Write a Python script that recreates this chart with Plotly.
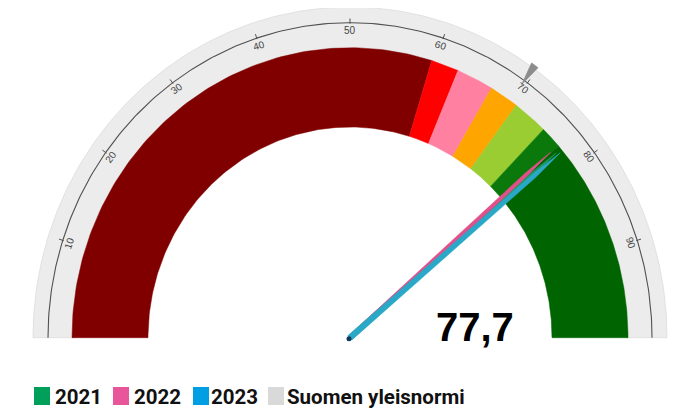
import numpy as np
import plotly.graph_objects as go

# ---------------- data ----------------
band_edges = [0, 59.5, 62.7, 67.0, 70.4, 74.5, 77.0, 100]
band_colors = ["#800000", "#ff0000", "#ff80a0", "#ffa500", "#9acd32", "#0a780a", "#006400"]
years = ["2021", "2022", "2023"]
values = [77.4, 76.9, 77.7]
needle_colors = ["#1f9a5e", "#e0508a", "#2aa8c8"]
legend_colors = ["#00a05a", "#e8559a", "#009fe3"]
norm_label = "Suomen yleisnormi"
norm_value = 69.6
norm_legend_color = "#d9d9d9"
tick_values = [10, 20, 30, 40, 50, 60, 70, 80, 90]
display_value = "77,7"

# ---------------- geometry / style ----------------
OFF = 8  # page body margin of the html page
W, H = 681 - OFF, 409 - OFF
R_IN, R_OUT = 202, 278
R_RING_IN, R_RING_OUT = 276, 317
R_SCALE = 302
R_LABEL = 296.5
needle_len = [272, 268, 275]
needle_halfw = [2.6, 2.3, 2.9]
CX_PX, CY_PX, KY = 350 - OFF, 337.7 - OFF, 1.043


def ang(v):
    return np.pi * (1 - v / 100.0)


def pol(r, v):
    a = ang(np.asarray(v, dtype=float))
    return r * np.cos(a), r * np.sin(a)


def ring(v0, v1, r0, r1, n=120):
    vs = np.linspace(v0, v1, n)
    xo, yo = pol(r1, vs)
    xi, yi = pol(r0, vs[::-1])
    return np.concatenate([xo, xi, xo[:1]]), np.concatenate([yo, yi, yo[:1]])


fig = go.Figure()

# grey outer ring
x, y = ring(0, 100, R_RING_IN, R_RING_OUT, 240)
fig.add_trace(go.Scatter(x=x, y=y, fill="toself", fillcolor="#ececec",
                         line=dict(color="#dcdcdc", width=0.8), mode="lines",
                         hoverinfo="skip", showlegend=False))

# coloured bands
for i, c in enumerate(band_colors):
    x, y = ring(band_edges[i], band_edges[i + 1], R_IN, R_OUT)
    fig.add_trace(go.Scatter(x=x, y=y, fill="toself", fillcolor=c,
                             line=dict(color=c, width=0.5), mode="lines",
                             hoverinfo="skip", showlegend=False))

# scale line
vs = np.linspace(0, 100, 240)
sx, sy = pol(R_SCALE, vs)
fig.add_trace(go.Scatter(x=sx, y=sy, mode="lines", line=dict(color="#505050", width=1.1),
                         hoverinfo="skip", showlegend=False))

# ticks
tx, ty = [], []
for v in tick_values:
    x0, y0 = pol(R_SCALE - 1, v)
    x1, y1 = pol(R_SCALE + 4, v)
    tx += [x0, x1, None]
    ty += [y0, y1, None]
fig.add_trace(go.Scatter(x=tx, y=ty, mode="lines", line=dict(color="#505050", width=1),
                         hoverinfo="skip", showlegend=False))

# tick labels (tangential)
for v in tick_values:
    lx, ly = pol(R_LABEL - 1.5, v)
    deg = np.degrees(ang(v))
    fig.add_annotation(x=lx, y=ly, xref="x", yref="y", text=str(v), showarrow=False,
                       textangle=90 - deg,
                       font=dict(family="Liberation Sans, Arial", size=10,
                                 color="#444444"))

# norm marker (grey wedge)
a = ang(norm_value)
px_, py_ = -np.sin(a), np.cos(a)
tipx, tipy = pol(R_SCALE - 5, norm_value)
bx, by = pol(R_RING_OUT + 3, norm_value)
fig.add_trace(go.Scatter(x=[tipx, bx + 4 * px_, bx - 4 * px_, tipx],
                         y=[tipy, by + 4 * py_, by - 4 * py_, tipy],
                         fill="toself", fillcolor="#8c8c8c", line=dict(color="#8c8c8c", width=0.5),
                         mode="lines", hoverinfo="skip", showlegend=False))

# needles
for v, c, L, hw in zip(values, needle_colors, needle_len, needle_halfw):
    a = ang(v)
    px_, py_ = -np.sin(a), np.cos(a)
    ex, ey = pol(L, v)
    mx, my = pol(0.88 * L, v)
    xs = [hw * px_, mx + 0.75 * hw * px_, ex, mx - 0.75 * hw * px_, -hw * px_, hw * px_]
    ys = [hw * py_, my + 0.75 * hw * py_, ey, my - 0.75 * hw * py_, -hw * py_, hw * py_]
    fig.add_trace(go.Scatter(x=xs, y=ys, fill="toself", fillcolor=c,
                             line=dict(color=c, width=0.5),
                             mode="lines", hoverinfo="skip", showlegend=False))

# pivot
fig.add_trace(go.Scatter(x=[-1], y=[-1], mode="markers",
                         marker=dict(color="#0b3a5a", size=5), hoverinfo="skip", showlegend=False))

# value text
fig.add_annotation(x=125, y=10, xref="x", yref="y", text="<b>" + display_value + "</b>",
                   showarrow=False, xanchor="center", yanchor="middle",
                   font=dict(family="Liberation Sans, Arial", size=40, color="#000000"))

# legend
leg_labels = years + [norm_label]
leg_cols = legend_colors + [norm_legend_color]
sq_x = [34, 113, 193, 268]
txt_x = [53, 132, 209, 285]
for lab, col, sx0, tx0 in zip(leg_labels, leg_cols, sq_x, txt_x):
    fig.add_shape(type="rect", xref="paper", yref="paper",
                  x0=(sx0 - OFF) / W, x1=(sx0 + 16 - OFF) / W,
                  y0=1 - (405 - OFF) / H, y1=1 - (387 - OFF) / H,
                  fillcolor=col, line=dict(width=0))
    fig.add_annotation(x=(tx0 - OFF) / W, y=1 - (396.5 - OFF) / H, xref="paper", yref="paper",
                       text="<b>" + lab + "</b>", showarrow=False,
                       xanchor="left", yanchor="middle",
                       font=dict(family="Roboto, Arial", size=20.5, color="#111111"))

fig.update_xaxes(range=[-CX_PX, W - CX_PX], visible=False, fixedrange=True)
fig.update_yaxes(range=[(CY_PX - H) / KY, CY_PX / KY], visible=False, fixedrange=True)
fig.update_layout(width=W, height=H, margin=dict(l=0, r=0, t=0, b=0),
                  paper_bgcolor="white", plot_bgcolor="white", showlegend=False)

fig.write_html("out.html")
